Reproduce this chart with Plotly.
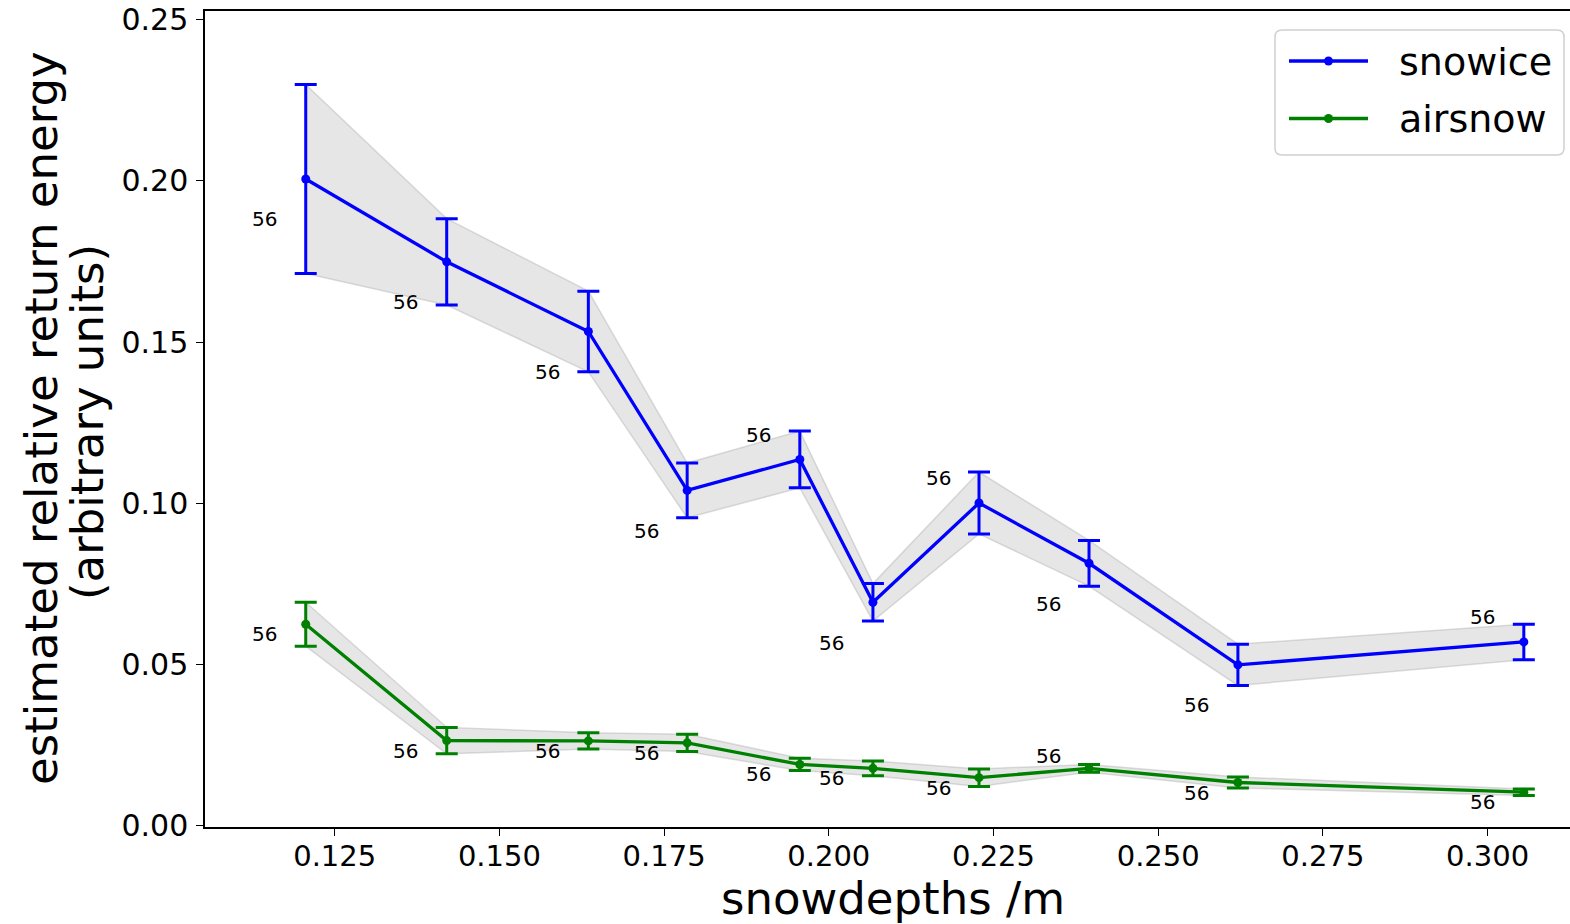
import plotly.graph_objects as go

# ---------------- data ----------------
snowdepths = [0.1206, 0.1420, 0.1635, 0.1785, 0.1956, 0.2067, 0.2228, 0.2395, 0.2621, 0.3055]

snowice_mean = [0.2006, 0.1749, 0.1533, 0.1040, 0.1136, 0.0693, 0.1001, 0.0814, 0.0499, 0.0570]
snowice_err = [0.0293, 0.0134, 0.0125, 0.0085, 0.0088, 0.0058, 0.0096, 0.0071, 0.0064, 0.0055]

airsnow_mean = [0.0625, 0.0264, 0.0263, 0.0257, 0.0190, 0.0178, 0.0149, 0.0178, 0.0134, 0.0104]
airsnow_err = [0.0068, 0.0041, 0.0025, 0.0027, 0.0019, 0.0023, 0.0027, 0.0012, 0.0017, 0.0010]

snowice_n = [56, 56, 56, 56, 56, 56, 56, 56, 56, 56]
airsnow_n = [56, 56, 56, 56, 56, 56, 56, 56, 56, 56]

series_names = ["snowice", "airsnow"]

x_ticks = [0.125, 0.150, 0.175, 0.200, 0.225, 0.250, 0.275, 0.300]
y_ticks = [0.00, 0.05, 0.10, 0.15, 0.20, 0.25]

# label placement (styling): 1 = above the point, 0 = below
snowice_label_above = [0, 0, 0, 0, 1, 0, 1, 0, 0, 1]
airsnow_label_above = [0, 0, 0, 0, 0, 0, 0, 1, 0, 0]

FONT = "DejaVu Sans"
BLUE = "#0000ff"
GREEN = "#008000"
BAND_FILL = "rgba(128,128,128,0.2)"
BAND_EDGE = "rgba(160,160,160,0.35)"

W, H = 1570, 924
ML, MR, MT, MB = 205, 0, 11, 97
PW, PH = W - ML - MR, H - MT - MB


def px(xp):
    return (xp - ML) / PW


def py(yp):
    return (H - MB - yp) / PH


fig = go.Figure()


def add_series(name, color, mean, err):
    upper = [m + e for m, e in zip(mean, err)]
    lower = [m - e for m, e in zip(mean, err)]
    fig.add_trace(go.Scatter(x=snowdepths, y=upper, mode="lines",
                             line=dict(color=BAND_EDGE, width=1.5),
                             showlegend=False, hoverinfo="skip"))
    fig.add_trace(go.Scatter(x=snowdepths, y=lower, mode="lines",
                             line=dict(color=BAND_EDGE, width=1.5),
                             fill="tonexty", fillcolor=BAND_FILL,
                             showlegend=False, hoverinfo="skip"))
    fig.add_trace(go.Scatter(x=snowdepths, y=mean, mode="lines+markers", name=name,
                             line=dict(color=color, width=3.3),
                             marker=dict(color=color, size=9),
                             showlegend=False,
                             error_y=dict(type="data", array=err, visible=True,
                                          color=color, thickness=3, width=11)))


add_series(series_names[0], BLUE, snowice_mean, snowice_err)
add_series(series_names[1], GREEN, airsnow_mean, airsnow_err)

annotations = []
for xs, ys, ns, above, up_shift, down_shift in [
        (snowdepths, snowice_mean, snowice_n, snowice_label_above, 24.5, -40.5),
        (snowdepths, airsnow_mean, airsnow_n, airsnow_label_above, 12.5, -10)]:
    for xv, yv, nv, ab in zip(xs, ys, ns, above):
        annotations.append(dict(x=xv, y=yv, xref="x", yref="y", text=str(nv),
                                showarrow=False, xshift=-41,
                                yshift=up_shift if ab else down_shift,
                                font=dict(family=FONT, size=20, color="black"),
                                xanchor="center", yanchor="middle"))

# axis titles
annotations.append(dict(x=0.5, y=0, xref="paper", yref="paper", text="snowdepths /m",
                        showarrow=False, xshift=5, yshift=-44, xanchor="center", yanchor="top",
                        borderpad=0,
                        font=dict(family=FONT, size=45, color="black")))
annotations.append(dict(x=0, y=0.5, xref="paper", yref="paper",
                        text="estimated relative return energy",
                        showarrow=False, textangle=-90, xshift=-164, yshift=1,
                        xanchor="center", yanchor="middle",
                        font=dict(family=FONT, size=45, color="black")))
annotations.append(dict(x=0, y=0.5, xref="paper", yref="paper",
                        text="(arbitrary units)",
                        showarrow=False, textangle=-90, xshift=-118, yshift=-3,
                        xanchor="center", yanchor="middle",
                        font=dict(family=FONT, size=45, color="black")))

# ---------------- manual legend (matplotlib style) ----------------
shapes = []
bx0, bx1, by0, by1, r = 1275, 1564, 30, 155, 7
path = (f"M{px(bx0 + r)},{py(by0)} L{px(bx1 - r)},{py(by0)} "
        f"Q{px(bx1)},{py(by0)} {px(bx1)},{py(by0 + r)} "
        f"L{px(bx1)},{py(by1 - r)} Q{px(bx1)},{py(by1)} {px(bx1 - r)},{py(by1)} "
        f"L{px(bx0 + r)},{py(by1)} Q{px(bx0)},{py(by1)} {px(bx0)},{py(by1 - r)} "
        f"L{px(bx0)},{py(by0 + r)} Q{px(bx0)},{py(by0)} {px(bx0 + r)},{py(by0)} Z")
shapes.append(dict(type="path", path=path, xref="paper", yref="paper",
                   fillcolor="rgba(255,255,255,0.8)", line=dict(color="#d0d0d0", width=1.5),
                   layer="above"))
for name, color, ly in [(series_names[0], BLUE, 61), (series_names[1], GREEN, 118.5)]:
    shapes.append(dict(type="line", xref="paper", yref="paper",
                       x0=px(1289), x1=px(1368), y0=py(ly), y1=py(ly),
                       line=dict(color=color, width=3.3), layer="above"))
    shapes.append(dict(type="circle", xref="paper", yref="paper",
                       xsizemode="pixel", ysizemode="pixel",
                       xanchor=px(1328.5), yanchor=py(ly),
                       x0=-4.5, x1=4.5, y0=-4.5, y1=4.5,
                       fillcolor=color, line=dict(color=color, width=0), layer="above"))
    annotations.append(dict(x=px(1397), y=py(ly), xref="paper", yref="paper", text=name,
                            showarrow=False, xanchor="left", yanchor="middle", yshift=-1,
                            font=dict(family=FONT, size=38, color="black")))

fig.update_layout(
    width=W, height=H,
    margin=dict(l=ML, r=MR, t=MT, b=MB),
    paper_bgcolor="white", plot_bgcolor="white",
    font=dict(family=FONT, color="black"),
    annotations=annotations,
    shapes=shapes,
    showlegend=False,
)

fig.update_xaxes(range=[0.10531, 0.31251], tickvals=x_ticks,
                 ticktext=[f"{v:.3f}" for v in x_ticks],
                 showgrid=False, zeroline=False, showline=True, linecolor="black",
                 linewidth=1.5, mirror=True, ticks="outside", ticklen=7, tickwidth=1.3,
                 tickcolor="black", ticklabelstandoff=-5,
                 tickfont=dict(family=FONT, size=29, color="black"))
fig.update_yaxes(range=[-0.0004, 0.2527], tickvals=y_ticks,
                 ticktext=[f"{v:.2f}" for v in y_ticks],
                 showgrid=False, zeroline=False, showline=True, linecolor="black",
                 linewidth=1.5, mirror=False, ticks="outside", ticklen=7, tickwidth=1.3,
                 tickcolor="black", ticklabelstandoff=2,
                 tickfont=dict(family=FONT, size=30, color="black"))

fig.write_html("out.html")
